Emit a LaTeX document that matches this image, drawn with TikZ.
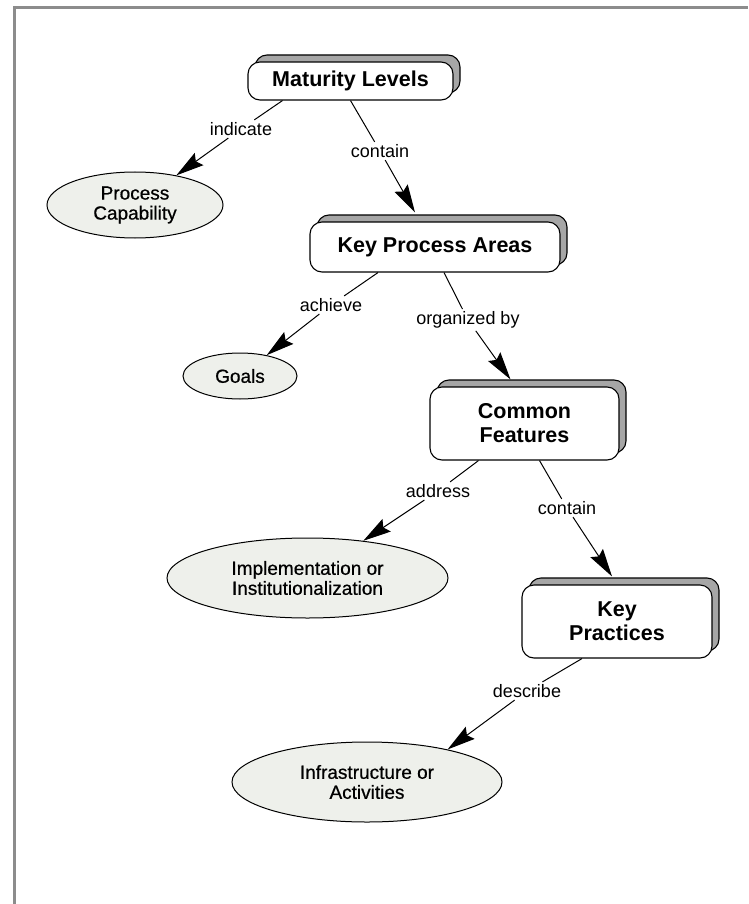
\documentclass[tikz,border=0pt]{standalone}
\usepackage{fontspec}
\setmainfont{Liberation Sans}
\newfontfamily\ideafont[FakeBold=0.6]{Liberation Sans}
\usetikzlibrary{shapes.geometric,shadows,arrows.meta}
\definecolor{ovalfill}{RGB}{238,240,235}
\tikzset{
  concept/.style={draw, line width=1.1pt, rounded corners=12pt, fill=white, align=center,
    font=\bfseries\fontsize{21.5}{24}\selectfont,
    copy shadow={shadow xshift=7pt, shadow yshift=7pt, fill=black!35, draw=black, line width=1.1pt}},
  idea/.style={draw, ellipse, line width=1pt, fill=ovalfill, align=center, inner sep=1pt,
    font=\ideafont\fontsize{19}{20}\selectfont},
  link/.style={inner sep=2pt, font=\fontsize{18}{20}\selectfont},
  arr/.style={-{Stealth[length=28pt,width=15pt,inset=4pt]}},
}

\begin{document}
\begin{tikzpicture}[x=1pt,y=-1pt,line width=1pt]
  \useasboundingbox (0,0) rectangle (748,904);
  \draw[line width=3pt, black!45] (14,904) -- (14,8) -- (748,8);

  % concepts
  \node[concept, minimum width=205pt, minimum height=38pt] (ml) at (350.5,81) {Maturity Levels};
  \node[concept, minimum width=250pt, minimum height=50pt] (kpa) at (435,247) {Key Process Areas};
  \node[concept, minimum width=189pt, minimum height=73pt] (cf) at (524.5,423.5) {Common\\Features};
  \node[concept, minimum width=190pt, minimum height=73pt] (kp) at (617,621.5) {Key\\Practices};

  \node[idea, minimum width=176pt, minimum height=66pt] (pc) at (135,205) {Process\\Capability};
  \node[idea, minimum width=114pt, minimum height=46pt] (goals) at (240,376) {Goals};
  \node[idea, minimum width=281pt, minimum height=80pt] (impl) at (307.5,578) {Implementation or\\Institutionalization};
  \node[idea, minimum width=270pt, minimum height=80pt] (infra) at (367,782) {Infrastructure or\\Activities};

  % link words
  \node[link] (indicate) at (241,129) {indicate};
  \node[link] (contain) at (380,151) {contain};
  \node[link] (achieve) at (331,305) {achieve};
  \node[link] (orgby) at (468,320) {organized by};
  \node[link] (address) at (438,491) {address};
  \node[link] (contains) at (567,508) {contain};
  \node[link] (describe) at (527,691) {describe};

  \draw ([xshift=-68pt]ml.south) -- (indicate);
  \draw[arr] (indicate) -- (pc);
  \draw (ml.south) -- (contain);
  \draw[arr] (contain) -- ([xshift=-20pt,yshift=9pt]kpa.north);

  \draw ([xshift=-57pt]kpa.south) -- (achieve);
  \draw[arr] (achieve) -- (goals);
  \draw ([xshift=9pt]kpa.south) -- (orgby);
  \draw[arr] (orgby) -- ([xshift=-14pt,yshift=7pt]cf.north);

  \draw ([xshift=-46pt]cf.south) -- (address);
  \draw[arr] (address) -- (impl);
  \draw ([xshift=15pt]cf.south) -- (contains);
  \draw[arr] (contains) -- ([xshift=-5pt,yshift=8pt]kp.north);

  \draw ([xshift=-35pt]kp.south) -- (describe);
  \draw[arr] (describe) -- (infra.22);
\end{tikzpicture}
\end{document}
